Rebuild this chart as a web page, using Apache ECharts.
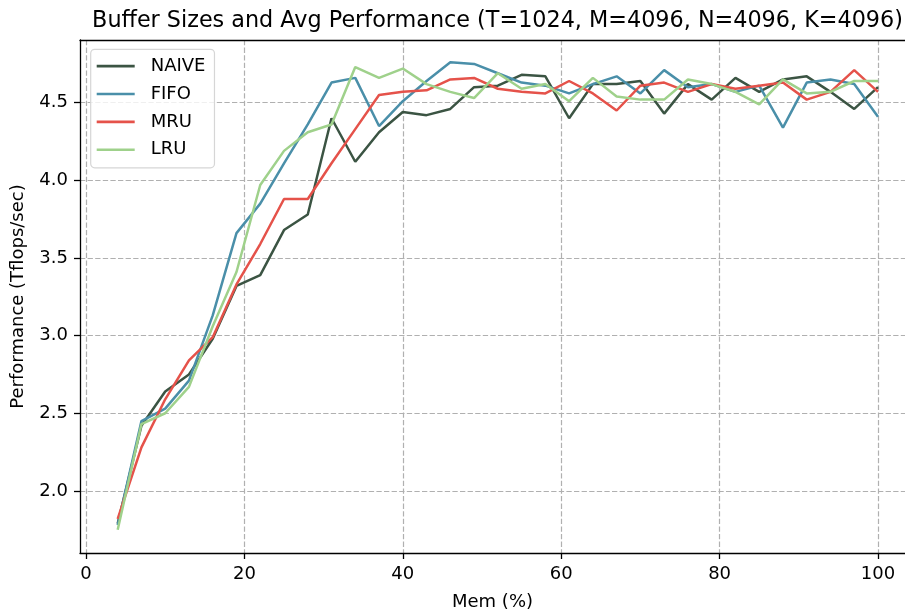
<!DOCTYPE html>
<html>
<head>
<meta charset="utf-8">
<script src="https://cdn.jsdelivr.net/npm/echarts@6/dist/echarts.min.js"></script>
<style>html,body{margin:0;padding:0;background:#fff}#chart{width:905px;height:616px}</style>
</head>
<body>
<div id="chart"></div>
<script>
const titleText = 'Buffer Sizes and Avg Performance (T=1024, M=4096, N=4096, K=4096)';
const xName = 'Mem (%)';
const yName = 'Performance (Tflops/sec)';
const memPct = [4,7,10,13,16,19,22,25,28,31,34,37,40,43,46,49,52,55,58,61,64,67,70,73,76,79,82,85,88,91,94,97,100];
const naive = [1.79,2.42,2.64,2.75,2.98,3.32,3.39,3.68,3.78,4.40,4.12,4.31,4.44,4.42,4.46,4.60,4.61,4.68,4.67,4.40,4.62,4.62,4.64,4.43,4.62,4.52,4.66,4.57,4.65,4.67,4.57,4.46,4.60];
const fifo  = [1.78,2.45,2.53,2.71,3.13,3.66,3.85,4.11,4.36,4.63,4.66,4.35,4.51,4.64,4.76,4.75,4.69,4.63,4.61,4.56,4.62,4.67,4.56,4.71,4.60,4.62,4.57,4.61,4.34,4.63,4.65,4.62,4.41];
const mru   = [1.82,2.28,2.59,2.84,2.99,3.33,3.59,3.88,3.88,4.11,4.33,4.55,4.57,4.58,4.65,4.66,4.59,4.57,4.56,4.64,4.56,4.45,4.61,4.63,4.57,4.62,4.59,4.61,4.63,4.52,4.57,4.71,4.57];
const lru   = [1.75,2.43,2.50,2.67,3.06,3.41,3.97,4.19,4.31,4.36,4.73,4.66,4.72,4.62,4.57,4.53,4.69,4.59,4.62,4.51,4.66,4.54,4.52,4.52,4.65,4.62,4.57,4.49,4.65,4.56,4.57,4.64,4.64];
const xTicks = [0,20,40,60,80,100];
const yTicks = [2.0,2.5,3.0,3.5,4.0,4.5];

const seriesDefs = [
  {name:'NAIVE', data:naive, color:'#3b5443'},
  {name:'FIFO',  data:fifo,  color:'#4a8fa9'},
  {name:'MRU',   data:mru,   color:'#e5524a'},
  {name:'LRU',   data:lru,   color:'#9fd18b'}
];
const FONT = 'DejaVu Sans';
const FS = 18;
const X_MIN = -0.758, X_MAX = 103.41, Y_MIN = 1.6, Y_MAX = 4.904;
const chart = echarts.init(document.getElementById('chart'), null, {renderer:'canvas'});
const gridLine = {show:true, lineStyle:{color:'#b0b0b0', width:1.2, type:[5.3,2.3]}};
const axisLineStyle = {color:'#000', width:1.3};
chart.setOption({
  animation:false,
  backgroundColor:'#fff',
  title:{text:titleText, left:497.5, top:10.5, padding:0, textAlign:'center',
    textStyle:{fontFamily:FONT, fontSize:22.3, fontWeight:'normal', color:'#000'}},
  legend:{orient:'vertical', left:90.7, top:49.3, padding:[6.8,9,8,6], itemGap:7.9,
    itemWidth:38, itemHeight:2.6, icon:'rect', backgroundColor:'rgba(255,255,255,0.8)',
    borderColor:'#d6d6d6', borderWidth:1.2, borderRadius:4,
    textStyle:{fontFamily:FONT, fontSize:FS, lineHeight:20, color:'#000', padding:[0,0,0,11]},
    data:seriesDefs.map(s=>s.name)},
  grid:{left:80, top:40, right:0, bottom:58, show:false},
  xAxis:[{type:'value', min:X_MIN, max:X_MAX, name:xName, nameLocation:'middle', nameGap:40,
    nameTextStyle:{fontFamily:FONT, fontSize:FS, color:'#000'},
    axisLine:{show:true, onZero:false, lineStyle:axisLineStyle},
    axisTick:{show:true, length:6, lineStyle:{color:'#000', width:1.3}, customValues:xTicks},
    axisLabel:{customValues:xTicks, fontFamily:FONT, fontSize:FS, color:'#000', margin:12},
    splitLine:gridLine},
   {type:'value', position:'top', min:X_MIN, max:X_MAX,
    axisLine:{show:true, onZero:false, lineStyle:axisLineStyle},
    axisTick:{show:false}, axisLabel:{show:false}, splitLine:{show:false}}],
  yAxis:{type:'value', min:Y_MIN, max:Y_MAX, name:yName, nameLocation:'middle', nameGap:53, nameRotate:90,
    nameTextStyle:{fontFamily:FONT, fontSize:FS, color:'#000'},
    axisLine:{show:true, onZero:false, lineStyle:axisLineStyle},
    axisTick:{show:true, length:6, lineStyle:{color:'#000', width:1.3}, customValues:yTicks},
    axisLabel:{customValues:yTicks, fontFamily:FONT, fontSize:FS, color:'#000', margin:12,
      formatter:v=>Number(v).toFixed(1)},
    splitLine:gridLine},
  series:seriesDefs.map(s=>({
    name:s.name, type:'line', symbol:'none', showSymbol:false, xAxisIndex:0,
    data:memPct.map((x,i)=>[x, s.data[i]]),
    lineStyle:{color:s.color, width:2.5}, itemStyle:{color:s.color},
    emphasis:{disabled:true}
  }))
});
</script>
</body>
</html>
